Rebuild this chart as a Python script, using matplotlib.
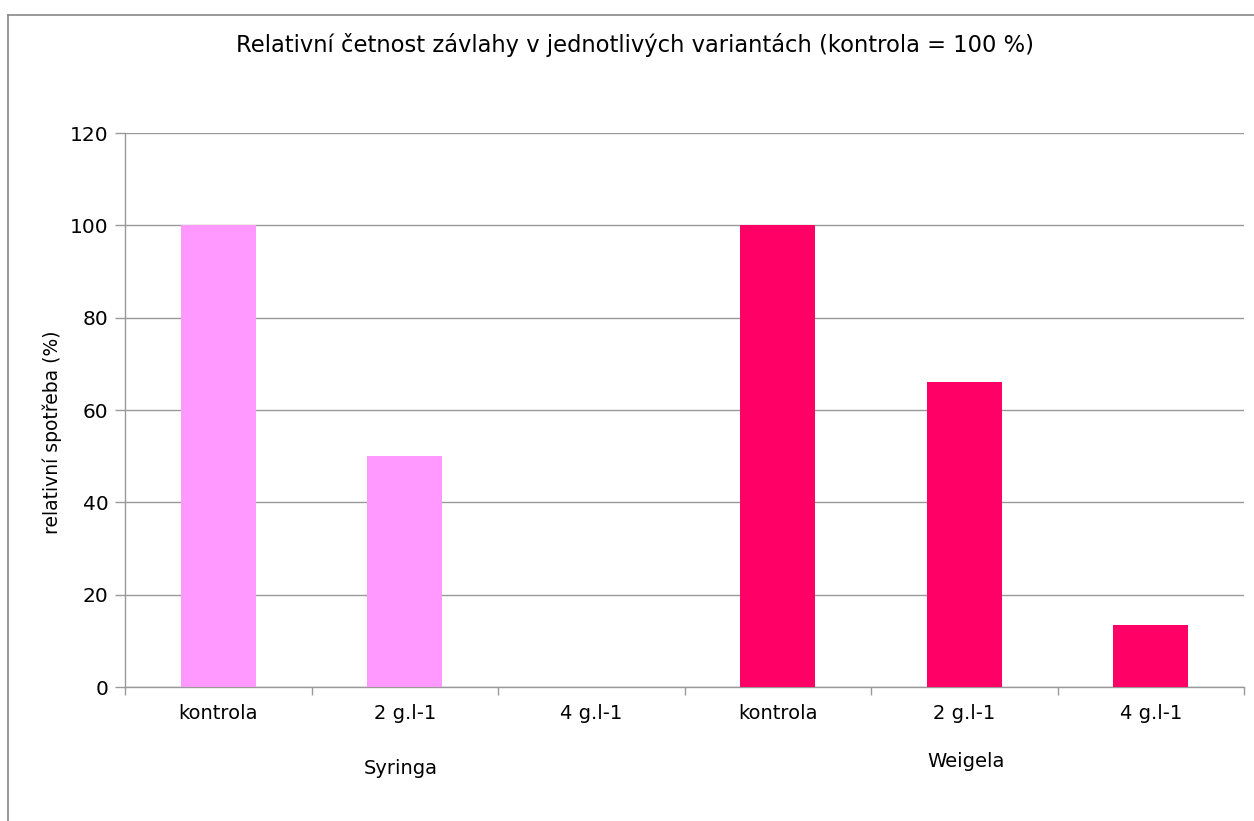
import matplotlib.pyplot as plt
from matplotlib.lines import Line2D

# data
categories = ['kontrola', '2 g.l-1', '4 g.l-1', 'kontrola', '2 g.l-1', '4 g.l-1']
values = [100, 50, 0, 100, 66, 13.5]
groups = ['Syringa', 'Weigela']
bar_colors = ['#FF99FF', '#FF99FF', '#FF99FF', '#FF0066', '#FF0066', '#FF0066']
yticks = [0, 20, 40, 60, 80, 100, 120]

W, H = 1254, 821
plt.rcParams['font.family'] = ['DejaVu Sans']
fig = plt.figure(figsize=(W / 100, H / 100), dpi=100)

# axes box in pixels: left 125, right 1244, top 133, bottom 687
ax = fig.add_axes([125 / W, 1 - 687 / H, (1244 - 125) / W, (687 - 133) / H])

x = list(range(len(categories)))
ax.bar(x, values, width=0.4, color=bar_colors, zorder=3)

ax.set_xlim(-0.5, len(categories) - 0.5)
ax.set_ylim(0, 120)
ax.set_yticks(yticks)
ax.set_yticklabels([str(v) for v in yticks], fontsize=14.5)
ax.grid(axis='y', color='#999999', linewidth=1.0, zorder=0)

# category labels without ticks, boundary ticks on the axis
ax.set_xticks(x)
ax.set_xticklabels(categories, fontsize=14)
ax.tick_params(axis='x', length=0, pad=12)
ax.set_xticks([i - 0.5 for i in range(len(categories) + 1)], minor=True)
ax.tick_params(axis='x', which='minor', length=6, color='#999999', width=1.0)
ax.tick_params(axis='y', length=7, color='#999999', width=1.0, pad=5)

for side in ['top', 'right']:
    ax.spines[side].set_visible(False)
for side in ['left', 'bottom']:
    ax.spines[side].set_color('#999999')
    ax.spines[side].set_linewidth(1.0)

ax.set_ylabel('relativní spotřeba (%)', fontsize=13.5)
ax.yaxis.set_label_coords(-0.056, 0.46)

# group labels under the categories
fig.text(401 / W, 1 - 768 / H, groups[0], ha='center', va='center', fontsize=14)
fig.text(966 / W, 1 - 761 / H, groups[1], ha='center', va='center', fontsize=14)

fig.text(635 / W, 1 - 45 / H,
         'Relativní četnost závlahy v jednotlivých variantách (kontrola = 100 %)',
         ha='center', va='center', fontsize=16.3)

# chart frame (left and top edge visible)
fig.add_artist(Line2D([8 / W, 8 / W], [0, 1 - 15 / H], transform=fig.transFigure,
                      color='#888888', linewidth=1.2))
fig.add_artist(Line2D([8 / W, 1], [1 - 15 / H, 1 - 15 / H], transform=fig.transFigure,
                      color='#888888', linewidth=1.2))

fig.savefig('out.png', dpi=100)
